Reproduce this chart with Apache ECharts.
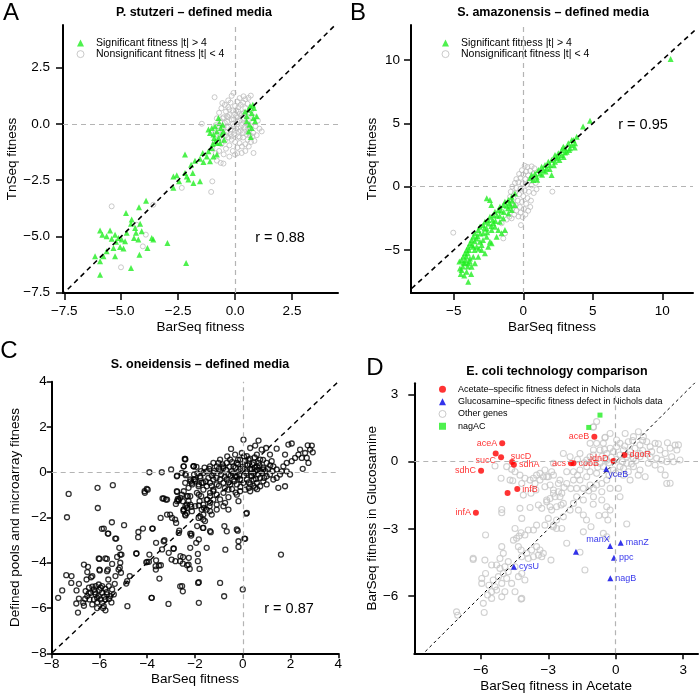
<!DOCTYPE html>
<html>
<head>
<meta charset="utf-8">
<title>BarSeq fitness comparisons</title>
<script src="https://cdn.jsdelivr.net/npm/echarts@6.0.0/dist/echarts.min.js"></script>
<style>
html, body { margin: 0; padding: 0; background: #fff; }
#main { width: 700px; height: 695px; }
</style>
</head>
<body>
<div id="main"></div>
<script>
// ---- panel A : P. stutzeri ----
const aSig = [
  [-5.93,-4.73],[-5.83,-4.92],[-5.64,-4.99],[-5.49,-4.74],[-5.42,-5.10],[-5.27,-4.92],[-5.23,-5.24],[-5.12,-5.07],[-5.05,-5.47],[-4.9,-5.54],
  [-4.98,-5.14],[-4.79,-3.96],[-4.76,-4.84],[-4.57,-4.44],[-4.54,-4.25],[-4.44,-5.07],[-4.35,-4.84],[-4.25,-5.14],[-4.22,-3.70],[-4.17,-4.44],
  [-4.1,-4.77],[-3.91,-3.41],[-3.85,-5.51],[-3.66,-5.07],[-3.59,-5.14],[-4.2,-5.81],[-4.57,-6.4],[-5.27,-5.88],[-5.64,-5.66],[-5.93,-6.1],
  [-6.15,-5.88],[-5.93,-6.7],[-5.78,-5.88],[-2.97,-5.29],[-2.15,-6.18],[-5.34,-5.51],[-4.39,-4.62],[-4.83,-5.21],
  [-2.71,-2.33],[-2.56,-2.28],[-2.71,-2.84],[-2.46,-2.55],[-2.2,-1.36],[-2.12,-2.33],[-2.05,-2.47],[-2.2,-2.18],[-1.93,-1.81],[-1.86,-2.18],
  [-1.83,-2.62],[-1.76,-1.63],[-1.54,-2.55],[-1.54,-1.54],[-1.42,-1.29],[-1.39,-1.69],[-1.24,-1.44],[-1.17,-1.21],[-1.1,-1.66],[-1.02,-1.07],
  [-0.95,-1.44],[-0.86,-0.77],[-0.8,-1.36],[-0.98,-0.89],
  [-1.17,-0.25],[-1.1,-0.4],[-1.02,-0.18],[-0.95,-0.47],[-0.88,-0.1],[-0.8,-0.33],[-0.73,-0.62],[-0.69,0.04],[-0.63,-0.18],[-0.59,-0.47],
  [-0.54,-0.03],[-0.51,-0.33],[-0.48,-0.7],[-0.8,-0.84],[-0.66,-0.84],[-0.73,0.27],[-0.92,-0.62],
  [0.51,0.34],[0.59,0.64],[0.66,0.79],[0.73,0.49],[0.81,0.27],[0.88,0.12],[0.51,0.12],[0.63,-0.03],[0.73,-0.18],[0.83,0.71],
  [0.95,0.34],[0.44,0.56],[0.69,-0.58],[0.59,-0.33],[0.78,0.86]
];
const aNon = [
  [-0.9,1.19],[-0.56,0.93],[-0.07,1.38],[0.37,1.23],[0.59,1.16],[0.69,1.26],[-1.46,0.01],[1.17,-0.33],[1.07,-0.21],[0.81,-1.29],
  [0.29,-1.29],[0,-1.36],[-0.63,-1.73],[-0.51,-1.76],[-0.8,-1.63],
  [-0.7,0.5],[-0.6,0.7],[-0.5,0.3],[-0.45,0.85],[-0.4,0.55],[-0.35,0.1],[-0.3,0.75],[-0.25,0.4],[-0.2,0.95],[-0.15,0.2],
  [-0.1,0.6],[-0.05,-0.1],[0,0.8],[0.05,0.35],[0.1,1.0],[0.15,0.55],[0.2,0.15],[0.25,0.85],[0.3,0.45],[0.35,0.95],
  [0.4,0.25],[0.45,0.7],[0.5,0.05],[0.55,0.9],[0.6,0.4],[0.65,-0.2],[0.7,0.6],[0.75,0.1],[0.8,-0.4],[0.85,0.3],[0.9,-0.1],
  [-0.75,-0.3],[-0.7,-0.6],[-0.65,0.1],[-0.6,-0.9],[-0.55,-0.45],[-0.5,-0.15],[-0.45,-0.75],[-0.4,-1.1],[-0.35,-0.35],[-0.3,-0.6],
  [-0.25,-0.95],[-0.2,-0.25],[-0.15,-0.7],[-0.1,-1.2],[-0.05,-0.45],[0,-0.8],[0.05,-0.2],[0.1,-1.05],[0.15,-0.55],[0.2,-0.85],
  [0.25,-0.3],[0.3,-1.0],[0.35,-0.6],[0.4,-0.15],[0.45,-0.9],[0.5,-0.45],[0.55,-0.7],[0.6,-1.0],[0.65,-0.5],[0.7,-0.8],
  [0.75,-0.55],[0.85,-0.75],[0.95,-0.5],[1.0,0.15],
  [-0.85,-0.05],[-0.8,0.25],[-0.95,-0.45],[-0.9,-0.85],[-1.0,-1.1],[-0.85,-1.3],[-0.7,-1.2],[-0.5,-1.35],[-0.25,-1.45],[0.1,-1.3],
  [0.45,-1.2],[-0.3,1.05],[0.2,1.15],[-0.15,1.25],[0.45,1.1],[-0.55,0.25],[-0.1,0.0],[0.1,0.1],[0.3,-0.05],[-0.2,-0.45],
  [0.0,0.45],[0.2,-0.6],[-0.4,-0.5],[0.6,0.15],[-0.6,-0.2],[0.0,-0.3],[0.15,0.75],[-0.35,0.35],[0.55,-0.2],[0.35,0.2],
  [-0.3,0.3],[0.1,0.3],[0.4,0.5],[-0.45,0.05],[0.25,-0.15],[0.5,0.35],[-0.15,-0.55],[0.15,-0.35],[-0.25,0.65],[0.05,0.6],
  [0.35,-0.4],[0.6,-0.3],[-0.05,0.2],[0.2,0.45],[-0.35,-0.15],
  [-1.0,-2.55],[-1.05,-3.02],[-2.34,-2.84],[-5.42,-3.66],[-3.59,-3.59],[-4.32,-4.48],[-3.92,-4.92],[-4.05,-5.44],[-5.01,-6.37]
];

// ---- panel B : S. amazonensis ----
const bSig = [
  [4.8,5.2],[4.3,4.75],[10.6,10.08],[3.6,3.68],[3.48,3.29],[3.24,3.42],[3.0,3.03],[2.76,2.89],[2.52,2.63],[2.28,2.5],
  [2.4,2.24],[2.04,2.1],[1.8,1.97],[1.92,1.71],[1.56,1.71],[1.32,1.58],[1.44,1.32],[1.08,1.32],[0.84,1.05],[0.96,0.79],
  [0.6,0.92],[0.48,0.66],[2.04,0.92],[2.76,2.5],[3.12,2.76],[3.84,3.95],[3.48,3.68],[2.88,3.16],[1.68,1.45],[1.2,1.05],
  [0.72,0.53],[2.28,1.97],[2.52,2.37],[3.36,3.03],[3.72,3.42],[3.7,3.1],[3.0,2.7],[2.6,2.1],[2.2,1.7],[1.9,1.4],
  [1.6,1.2],[1.35,0.95],[2.9,2.35],[3.3,2.9],[1.0,0.55],
  [-0.6,-0.53],[-0.84,-0.79],[-1.08,-1.05],[-1.32,-1.18],[-1.44,-1.45],[-1.68,-1.58],[-1.8,-1.84],[-2.04,-1.97],[-2.16,-2.24],[-2.4,-2.37],
  [-2.52,-2.63],[-2.76,-2.76],[-2.88,-3.03],[-3.12,-3.16],[-3.24,-3.42],[-3.48,-3.68],[-3.6,-3.95],[-3.72,-4.21],[-3.84,-4.47],[-3.96,-4.74],
  [-4.08,-5.0],[-4.2,-5.26],[-4.32,-5.53],[-4.44,-5.79],[-4.56,-6.45],[-4.08,-6.71],[-3.96,-7.5],[-2.63,-0.92],[-2.4,-1.05],[-2.3,-1.45],
  [-2.28,-4.47],[-2.52,-4.74],[-1.92,-3.95],[-1.56,-3.68],[-1.32,-3.42],[-3.0,-5.0],[-2.76,-5.26],[-3.24,-5.53],[-3.48,-6.05],[-3.6,-5.53],
  [-3.96,-6.05],[-3.84,-5.66],[-3.36,-4.74],[-3.12,-4.34],[-2.64,-3.95],[-2.28,-3.42],[-2.04,-3.16],[-1.68,-2.76],[-1.44,-2.5],[-1.08,-2.11],
  [-0.84,-1.84],[-0.6,-1.45],[-4.2,-6.05],[-4.44,-6.58],[-3.72,-6.32],[-3.0,-4.61],[-2.4,-4.34],[-1.8,-3.42],[-2.16,-2.89],[-2.64,-3.29],
  [-2.88,-3.68],[-3.36,-4.08],[-3.6,-4.74],[-4.0,-5.26],
  [-1.2,-1.5],[-1.0,-1.3],[-0.8,-1.1],[-1.6,-1.9],[-1.9,-2.3],[-2.2,-2.6],[-2.5,-2.9],[-2.8,-3.3],[-3.1,-3.7],[-3.3,-3.9],
  [-3.5,-4.3],[-3.7,-4.6],[-3.9,-5.0],[-4.1,-5.5],[-4.3,-6.0],[-4.5,-6.9],[-4.0,-6.3],[-3.5,-5.0],[-3.2,-4.9],[-2.9,-4.2],
  [-2.6,-3.6],[-2.3,-3.1],[-2.0,-2.7],[-1.7,-2.3],[-1.4,-2.0],[-1.1,-1.7],[-0.9,-1.5],[-4.6,-5.9],[-4.35,-6.3],[-4.15,-5.8],
  [-3.85,-5.9],[-3.75,-6.9],[-4.25,-7.0]
];
const bNon = [
  [0.1,1.65],[0.3,1.55],[0.6,1.6],[0.8,1.45],[-0.1,1.3],[0.2,1.2],[0.5,1.25],[-0.3,1.0],[0.0,0.95],[0.35,0.9],
  [0.7,1.0],[-0.5,0.6],[-0.2,0.7],[0.15,0.6],[0.45,0.5],[0.9,0.3],[-0.6,0.3],[-0.35,0.35],[-0.05,0.25],[0.25,0.15],
  [0.6,0.1],[0.95,-0.2],[-0.8,0.0],[-0.5,-0.1],[-0.2,-0.15],[0.1,-0.3],[0.4,-0.4],[0.75,-0.5],[-0.9,-0.4],[-0.6,-0.5],
  [-0.3,-0.6],[0.0,-0.75],[0.3,-0.9],[0.55,-1.1],[-0.95,-0.8],[-0.7,-0.95],[-0.4,-1.1],[-0.1,-1.2],[0.2,-1.35],[0.5,-1.6],
  [-0.85,-1.3],[-0.55,-1.45],[-0.25,-1.6],[0.05,-1.75],[0.35,-1.9],[-0.8,-1.75],[-0.5,-1.9],[-0.2,-2.05],[0.15,-2.2],[-0.65,-2.2],
  [-0.35,-2.35],[-0.05,-2.4],
  [-5.04,-3.63],[-0.17,-3.03],[2.09,-0.39],[-0.84,-2.5],[-1.0,-2.37],[-1.56,-2.89],[-1.32,-3.68],[-1.44,-4.08],[-1.2,-2.6]
];

// ---- panel C : S. oneidensis ----
const cPts = [
  [-7.29,-0.96],[-7.36,-1.99],[-6.08,-0.69],[-6.07,-1.58],[-5.44,-0.57],[-5.9,-2.5],[-5.48,-2.21],[-5.65,-2.71],[-5.34,-2.93],[-5.3,-2.93],
  [-4.97,-2.34],[-5.17,-3.34],[-5.13,-3.64],[-5.13,-4.0],[-5.2,-4.3],[-6.0,-3.83],[-5.69,-3.83],[-6.0,-4.3],[-5.65,-4.3],[-4.37,-2.64],
  [-4.18,-2.49],[-3.77,-2.49],[-4.46,-3.59],[-3.91,-3.64],[-4.04,-3.98],[-3.63,-3.89],[-3.64,-4.3],[-3.43,-4.11],[-3.49,-4.7],[-3.81,-5.55],
  [-3.11,-5.82],[-3.31,-3.05],[-2.9,-3.37],[-2.66,-2.58],[-2.83,-2.09],[-3.04,-1.87],[-3.22,-1.21],[-3.36,-1.16],[-3.0,0.12],[-3.39,0.0],
  [-3.91,0.0],[-4.11,-0.84],[-4.02,-0.74],[-2.55,-0.03],[-2.41,0.59],[-2.06,0.27],[-2.39,-0.13],[-4.83,-5.92],[-2.62,-3.93],[-2.51,-4.04],
  [-2.27,-4.08],[-2.22,-4.27],[-2.62,-5.04],[-2.51,-5.26],[-1.88,-3.93],[-1.81,-4.27],[-1.84,-4.86],[-1.84,-5.77],[-2.2,-3.34],[-1.95,-3.12],
  [-1.51,-3.34],[-1.34,-2.65],[-1.67,-2.46],[-1.58,-2.16],[-2.13,-1.72],[-2.27,-1.28],[-1.99,-1.5],[-1.81,-1.28],[-1.74,-1.06],[-2.34,-1.8],
  [-2.48,-1.72],[-2.4,-1.5],[-2.51,-1.28],[-2.34,-1.06],[-2.72,-1.18],[-2.8,-1.4],[-0.67,-2.61],[-0.73,-3.42],[-0.21,-2.58],[-0.18,-3.3],
  [0.07,-2.93],[0.14,-1.83],[0,-5.18],[-0.95,-4.89],[-0.78,-5.48],[1.6,-3.64],[-1.09,-1.43],[-1.09,-1.65],[-1.3,-1.87],[-1.23,-0.84],
  [-1.37,-1.06],[-1.48,-1.21],[-1.62,-1.58],[-1.39,-1.5],
  [-5.82,-2.49],[-5.63,-2.71],[-5.08,-3.64],[-5.26,-3.74],[-6.03,-3.81],[-5.75,-3.81],[-5.47,-4.05],[-5.15,-4.22],[-5.1,-4.44],[-6.65,-4.08],
  [-6.48,-4.18],[-6.51,-4.41],[-6.3,-4.59],[-5.99,-4.34],[-5.68,-4.37],[-5.63,-4.74],[-7.39,-4.55],[-7.17,-4.59],[-7.18,-4.89],[-6.86,-4.93],
  [-6.54,-4.74],[-6.35,-4.64],[-5.33,-4.59],[-5.36,-4.93],[-4.73,-4.59],[-4.84,-4.81],[-4.88,-4.92],[-7.56,-5.22],[-7.73,-5.55],[-6.96,-5.22],
  [-6.86,-5.58],[-6.97,-5.8],[-6.68,-5.77],[-6.58,-5.25],[-6.44,-5.1],[-6.37,-5.33],[-6.23,-5.18],[-6.16,-5.03],[-6.03,-4.96],[-5.89,-5.03],
  [-5.75,-5.15],[-5.61,-5.03],[-5.47,-5.18],[-5.4,-5.4],[-5.54,-5.47],[-5.68,-5.4],[-5.89,-5.33],[-6.03,-5.47],[-6.16,-5.4],[-6.23,-5.62],
  [-6.09,-5.74],[-5.89,-5.77],[-5.82,-5.92],[-6.42,-5.62],[-6.51,-5.47],[-6.3,-5.84],[-5.96,-5.62],[-5.75,-5.62],[-3.82,-5.55],[-3.93,-3.96],
  [-4.0,-3.96],[-4.45,-3.59],[-3.65,-4.15],[-3.51,-4.12],[-4.38,-2.87],[-3.79,-2.49],[-3.28,-3.0],[-2.89,-3.38],[-2.61,-3.71],[-2.5,-3.75],
  [-2.33,-4.11],[-2.54,-5.03],[-1.87,-4.89],[-1.88,-3.61],[-2.15,-2.72],[-2.68,-2.68],[-2.79,-2.24],[-3.44,-2.02],[-3.17,-1.87],[-2.96,-2.02],
  [-2.4,-1.91],[-2.47,-1.65],[-2.33,-1.57],[-2.19,-1.43],[-4.1,-0.91],[-3.98,-0.77],[-2.75,-0.15],[-2.4,-0.07],[-2.47,0.26],[-2.43,0.59],
  [-3.31,-1.16],[-3.17,-1.21],[-2.75,-0.87],[-2.61,-1.13],[-2.75,-1.28],[-2.68,-1.25],[-2.3,-1.06],[-2.47,-0.84],[-2.12,-0.54],[-2.05,-0.32],
  [-2.19,-0.4],[-1.98,-0.4],[-1.84,-0.54],[-1.77,-0.25],[-1.94,0.24],[-2.05,0.26],[-1.84,-0.99],[-1.84,-1.47],[-2.15,-1.53],[-1.77,-1.97],
  [-3.1,-3.56],[-3.38,-3.41],[-3.63,-3.12],[-2.98,-3.86],[-2.82,-3.93],[-2.26,-3.78],[-1.84,-2.97],[-2.16,-2.8],[-1.91,-2.38],
  [0.03,1.44],[0.66,1.4],[-0.49,1.03],[0.52,1.18],[0.31,1.07],[0.79,1.0],[0.98,1.07],[1.42,1.04],[1.14,0.78],[1.77,0.78],
  [1.91,1.22],[2.05,1.27],[2.72,1.19],[2.89,1.18],[2.82,1.0],[2.93,0.88],[2.4,1.0],[2.61,0.85],[2.33,0.78],[2.19,0.63],
  [2.47,0.63],[2.68,0.63],[2.75,0.41],[2.05,0.49],[1.84,0.41],[1.7,0.26],[2.51,0.15],[1.98,-0.1],[1.56,-0.1],[1.77,-0.62],
  [1.49,-0.69],[1.14,-0.1],[1.28,0.26],[1.0,0.41],[0.86,0.12],[0.73,0.56],[0.59,0.26],[0.45,0.41],[0.38,0.12],[0.24,0.56],
  [0.1,0.34],[-0.11,0.56],[-0.25,0.41],[-0.39,0.26],[-0.53,0.56],[-0.67,0.41],[-0.81,0.26],[-0.95,0.56],[-1.02,0.41],[-1.09,0.26],
  [-1.23,0.41],[-1.37,0.26],[-1.51,0.04],[-1.65,-0.03],[-1.79,-0.18],[-1.99,-0.32],[-2.13,-0.47],[-2.04,-0.1],[-2.48,0.26],[-2.41,0.56],
  [-2.06,0.26],[-2.76,-0.18],[-1.92,-0.91],[-1.85,-0.62],[-1.65,-0.47],[-1.51,-0.62],[-1.37,-0.47],[-1.23,-0.32],[-1.09,-0.54],[-0.95,-0.32],
  [-0.81,-0.47],[-0.67,-0.32],[-0.53,-0.54],[-0.39,-0.32],[-0.25,-0.54],[-0.11,-0.32],[0.03,-0.47],[0.17,-0.32],[0.31,-0.54],[0.45,-0.32],
  [0.59,-0.47],[0.73,-0.25],[0.86,-0.4],[1.0,-0.18],[0.1,-0.77],[-0.11,-0.84],[-0.25,-0.99],[-0.18,-1.28],[-0.6,-0.77],[-0.81,-0.91],
  [-1.09,-0.99],[-1.23,-0.77],[-1.37,-0.91],[-1.51,-1.21],[-1.37,-1.35],[-1.23,-1.21],[-1.65,-1.43],[-1.72,-1.65],[-1.65,-1.87],[-1.51,-1.65],
  [-1.37,-1.72],[-0.74,-1.35],[-0.6,-1.65],[0.17,-1.8],[-0.25,-2.53],[-0.18,-3.05],[0.1,-2.94],[-0.77,-2.38],[-1.65,-2.46],[-1.37,-2.6],
  [-2.2,-2.71],[-2.48,-1.65],[-2.41,-1.87],[-2.69,-1.21],[-2.76,-0.84],[-2.2,-1.06],[-2.34,-1.43],[-1.65,-2.09],[-1.85,-2.02],[-0.81,-1.5],
  [-0.81,0.19],[-0.46,0.04],[-0.18,0.04],[0.17,0.04],[0.52,0.04],[0.8,-0.03],[-0.6,-0.1],[-0.32,-0.18],[0.38,-0.18],[0.66,0.41],
  [-0.04,0.85],[-0.32,0.78],[0.17,0.71],[0.59,0.78],[1.21,0.49],[1.42,0.12],[-0.95,0.04],[-1.23,-0.03],[-1.44,-0.25],[-1.72,-0.47],
  [-2.2,-0.32],[-2.41,-0.47],[-2.27,-0.69],[-2.55,-0.99],[-1.65,-0.77],[0.31,-0.84],[0.52,-0.69],[0.73,-0.62],[1.0,-0.54],[1.28,-0.32],
  [1.42,-0.25],[1.63,0.04],[1.84,0.04],
  [-1.4,0.15],[-1.3,-0.15],[-1.2,0.05],[-1.1,-0.25],[-1.0,0.15],[-0.9,-0.1],[-0.85,0.35],[-0.75,-0.2],[-0.7,0.1],[-0.6,-0.45],
  [-0.55,0.25],[-0.5,-0.15],[-0.45,0.45],[-0.4,-0.05],[-0.35,-0.4],[-0.3,0.2],[-0.25,-0.2],[-0.2,0.35],[-0.15,-0.1],[-0.1,0.15],
  [-0.05,-0.35],[0,0.25],[0.05,-0.15],[0.1,0.5],[0.15,-0.05],[0.2,0.3],[0.25,-0.45],[0.3,0.15],[0.35,-0.15],[0.4,0.35],
  [0.45,-0.05],[0.5,0.2],[0.55,-0.3],[0.6,0.1],[0.65,-0.1],[0.7,0.3],[0.75,0.05],[0.85,0.2],[0.9,-0.25],[0.95,0.05],
  [1.05,0.15],[1.15,0.3],[1.25,0.05],[-1.55,-0.4],[-1.6,0.2],[-1.75,0.05],[-1.9,-0.05],[-1.3,-0.6],[-1.0,-0.6],[-0.75,-0.7],
  [-0.45,-0.75],[-0.1,-0.65],[0.25,-0.7],[0.45,-0.6],[0.6,-0.75],[-0.3,-0.9],[-0.6,-1.1],[-0.95,-1.2],[0.3,0.6],[0.05,0.7],
  [-0.2,0.55],[-0.65,0.7],[0.5,0.65],[0.85,0.55],
  [-6.2,-5.3],[-6.0,-5.2],[-5.8,-5.5],[-6.1,-5.55],[-5.95,-5.1],[-6.3,-5.05],[-5.7,-5.3],[-6.45,-5.35],[-6.6,-5.6],[-5.6,-5.6],
  [-5.85,-6.0],[-6.1,-6.0],[-5.75,-6.1],[-6.65,-5.9],[-6.9,-6.2],[-5.5,-5.75]
];

// ---- panel D : E. coli ----
const dOther = [
  [-5.37,-0.19],[-5.1,-0.74],[-4.7,-0.82],[-4.58,-0.85],[-4.85,-0.22],[-4.63,-0.34],[-4.48,-0.45],[-4.26,-0.6],[-4.04,-0.74],[-3.81,-0.82],
  [-3.66,-0.74],[-3.52,-0.6],[-3.37,-0.52],[-3.22,-0.67],[-3.15,-0.37],[-3.0,-0.67],[-2.85,-0.45],[-2.77,-0.07],[-2.55,-0.97],[-2.92,-1.04],
  [-3.37,-0.82],[-3.59,-0.97],[-4.18,-0.97],[-5.07,-2.28],[-5.79,-3.27],[-6.34,-4.36],[-4.18,-2.53],[-3.81,-2.04],[-3.44,-1.93],[-3.29,-2.08],
  [-3.07,-1.79],[-2.92,-1.64],[-2.7,-1.56],[-2.4,-1.41],[-2.55,-1.34],[-2.77,-1.26],[-2.43,-1.93],[-2.85,-2.16],[-3.0,-2.53],[-3.15,-2.83],
  [-2.77,-2.83],[-2.63,-2.98],[-2.4,-2.98],[-3.52,-2.83],[-3.66,-3.05],[-3.89,-3.05],[-4.04,-3.27],[-4.3,-3.32],[-4.41,-3.42],[-4.48,-2.98],
  [-4.21,-3.17],[-4.55,-3.5],[-4.33,-3.79],[-4.21,-3.94],[-3.96,-4.09],[-4.18,-4.24],[-3.89,-4.32],[-3.66,-4.24],[-3.44,-4.17],[-3.29,-4.24],
  [-2.88,-4.39],[-3.74,-3.94],[-3.52,-3.79],[-3.37,-3.94],[-3.22,-4.09],[-5.07,-3.79],[-5.0,-4.09],[-5.52,-4.61],[-5.3,-4.61],[-5.15,-4.76],
  [-4.93,-4.69],[-4.78,-4.91],[-5.0,-4.99],[-5.22,-5.13],[-5.45,-5.28],[-5.64,-5.51],[-5.37,-5.58],[-5.52,-5.8],[-5.7,-5.95],[-5.52,-6.1],
  [-5.3,-5.73],[-4.48,-5.8],[-4.21,-6.13],[-5.96,-5.21],[-5.89,-6.32],[-5.85,-6.73],[-7.08,-6.7],[-7.03,-6.85],[-5.15,-4.32],[-4.78,-4.46],
  [-4.48,-4.69],[-4.33,-5.13],[-4.18,-4.99],[-4.04,-5.28],[-4.63,-5.43],[-4.85,-5.21],[-5.07,-5.43],[-5.79,-4.99],[-5.96,-5.43],[-4.93,-5.8],
  [-5.07,-6.03],[-4.26,-2.08],[-3.77,-1.41],[-3.55,-1.26],[-4.11,-1.49],[-5.07,-2.13],
  [-0.47,1.09],[0.04,0.97],[0.42,1.26],[0.19,0.82],[0.56,0.89],[0.79,1.12],[1.01,1.34],[1.23,1.12],[1.38,0.89],[1.08,0.74],
  [0.86,0.6],[1.53,0.67],[1.75,0.82],[1.97,0.52],[2.2,0.37],[2.42,0.6],[2.64,0.74],[2.72,0.52],[2.49,0.22],[2.27,0],
  [1.82,0.15],[1.53,0.22],[1.45,-0.07],[1.75,-0.15],[2.05,0.07],[2.57,0.0],[2.2,-0.6],[1.31,-0.67],[1.08,-0.37],[0.79,-0.22],
  [0.56,-0.45],[0.34,-0.6],[0.64,-0.82],[0.12,-1.19],[0.19,-1.56],[-0.4,-2.01],[-0.25,-2.16],[-0.47,-2.38],[0.49,-2.78],[-0.62,-1.34],
  [-0.85,-1.04],[-0.99,-1.56],[-0.62,-1.71],[-1.44,-1.71],[-1.74,-1.56],[-1.88,-1.86],[-2.03,-2.16],[-1.66,-2.16],[-1.44,-2.38],[-2.33,-1.86],
  [-2.63,-2.01],[-2.92,-2.01],[-3.07,-1.71],[-3.15,-1.12],[-3.07,-0.67],[-2.77,-0.6],[-2.48,-0.82],[-2.18,-0.97],[-1.88,-0.82],[-1.59,-0.82],
  [-1.29,-0.67],[-1.14,-0.45],[-0.85,-0.52],[-0.55,-0.22],[-1.29,-0.22],[-1.59,-0.37],[-1.88,-0.45],[-2.18,-0.45],[-2.33,0.37],[-2.03,0.22],
  [-1.59,0.37],[-1.14,0.22],[-0.99,0.52],[-0.7,0.52],[-0.4,0.37],[-0.25,0.6],[0.04,0.67],[0.34,0.52],[-0.55,0.82],[-0.85,0.82],
  [-1.14,0.82],[-0.4,0.07],[-0.7,-0.07],[-0.99,0.0],[-1.29,0.07],[-0.1,-0.37],[0.19,-0.22],[0.49,-0.07],[0.79,0.15],[1.08,0.22],
  [0.49,0.22],[0.19,0.3],[1.08,0.37],[0.64,0.45],[-0.99,1.56],[-0.85,1.79],[2.27,-0.97],[-0.4,-0.82],[-0.25,-1.19],[-0.62,-0.97],
  [-2.77,-1.41],[-2.48,-1.56],[-2.33,-2.46],[-2.63,-2.6],[-0.55,-3.2],[-0.4,-3.35],[-1.74,-1.19],[-1.44,-1.19],[-1.14,-1.04],[-0.99,-1.19],
  [-0.25,1.26],[-1.0,1.54],[-0.48,1.07],[2.79,0.75],[2.86,0.08],[2.42,-0.96],[-1.37,-4.83],[-1.59,-4.04],[-2.18,-3.64],[-1.44,-3.13],
  [-2.78,-2.9],[-5.82,-4.39],[-6.34,-4.31],[-4.18,-6.1],
  [-0.2,0.2],[-0.3,-0.05],[0.05,0.1],[0.3,0.0],[0.6,0.3],[0.9,0.05],[1.2,0.5],[1.4,0.35],[0.7,-0.1],[0.4,0.7],
  [-0.6,0.25],[-0.8,-0.25],[-1.0,0.3],[-1.4,-0.05],[-1.7,0.1],[-0.3,-0.6],[0.0,-0.5],[0.35,-0.3],[1.0,-0.6],[1.6,0.45],
  [1.9,0.8],[2.3,0.85],[2.0,-0.35],[-0.1,0.45],[-0.5,0.55],[0.75,0.95],[1.2,0.95],[-1.7,-0.6],[-2.0,-1.2],[-2.3,-1.15],
  [-1.2,-1.3],[-1.0,-1.9],[-0.75,-2.4],[-1.3,-2.6],[-1.1,-2.9],[-0.35,-2.6]
];
const dAcetate = [
  ['aceA',-5.05,0.83],['',-5.34,0.37],['sucC',-5.1,0.2],['sucD',-4.61,-0.01],['sdhA',-4.53,-0.13],['sdhC',-5.99,-0.4],
  ['infB',-4.38,-1.22],['',-4.81,-1.4],['infA',-6.22,-2.28],['acs',-1.99,-0.07],['cobB',-1.88,-0.07],['aceB',-0.95,1.12],
  ['idnD',-0.1,0.03],['dgoR',0.39,0.3]
];
const dGlucosamine = [
  ['yceB',-0.42,-0.32],['manX',-0.25,-3.76],['manZ',0.22,-3.62],['ppc',-0.08,-4.29],['nagB',-0.24,-5.2],['',-1.77,-4.02],['cysU',-4.53,-4.69]
];
const dNagAC = [[-0.7,2.08],[-1.2,1.53]];

// ticks and correlations
const ticksA = [-7.5, -5, -2.5, 0, 2.5];
const ticksB = [-5, 0, 5, 10];
const ticksC = [-8, -6, -4, -2, 0, 2, 4];
const ticksD = [-6, -3, 0, 3];
const rValues = ['0.88', '0.95', '0.87'];
const diagLine = [[-20, -20], [20, 20]];

const FONT = '"Liberation Sans", Arial, Helvetica, sans-serif';
const GREEN = '#22ee22';
const GRAY = '#bdbdbd';
const RED = '#ff0000';
const BLUE = '#0000e6';

// label sides for the named genes in D
const labelPlace = {
  aceA: { position: 'left' }, sucC: { position: 'left', offset: [0, 3] },
  sucD: { position: 'inside', offset: [9, -5] }, sdhA: { position: 'right' },
  sdhC: { position: 'left' }, infB: { position: 'right' }, infA: { position: 'left' },
  acs: { position: 'left' }, cobB: { position: 'right' }, aceB: { position: 'left' },
  idnD: { position: 'left', offset: [0, -3] }, dgoR: { position: 'right' },
  yceB: { position: 'inside', offset: [12, 6] }, manX: { position: 'inside', offset: [-12, -6] },
  manZ: { position: 'right' }, ppc: { position: 'right' }, nagB: { position: 'right' }, cysU: { position: 'right' }
};

function tickFmt(dec) {
  return v => (dec ? v.toFixed(dec) : String(v)).replace('-', '\u2212');
}

function axis(gi, min, max, ticks, dec, name, nameGap, margin, tickLen) {
  return {
    type: 'value', gridIndex: gi, min: min, max: max,
    name: name, nameLocation: 'middle', nameGap: nameGap,
    nameTextStyle: { fontFamily: FONT, fontSize: 13.5, color: '#000' },
    axisLine: { show: true, onZero: false, lineStyle: { color: '#000', width: 2 } },
    axisTick: { show: true, inside: false, length: tickLen, customValues: ticks, lineStyle: { color: '#000', width: 1.5 } },
    axisLabel: { customValues: ticks, margin: margin, formatter: tickFmt(dec), fontFamily: FONT, fontSize: 13.5, color: '#000' },
    splitLine: { show: false }
  };
}

const zeroLines = {
  silent: true, symbol: ['none', 'none'], label: { show: false }, animation: false,
  lineStyle: { color: '#b4b4b4', type: [5, 4], width: 1.2 },
  data: [{ xAxis: 0 }, { yAxis: 0 }]
};

function refLine(gi, dash, width) {
  return {
    type: 'line', xAxisIndex: gi, yAxisIndex: gi, data: diagLine, symbol: 'none',
    silent: true, clip: true, z: 5, lineStyle: { color: '#000', width: width, type: dash }
  };
}

function openCircles(gi, name, data, color, size, bw) {
  return {
    type: 'scatter', name: name, xAxisIndex: gi, yAxisIndex: gi, data: data,
    symbol: 'circle', symbolSize: size,
    itemStyle: { color: 'rgba(0,0,0,0)', borderColor: color, borderWidth: bw },
    markLine: zeroLines
  };
}

function labelled(list, color, symbol, size, name) {
  return {
    type: 'scatter', name: name, xAxisIndex: 3, yAxisIndex: 3, symbol: symbol, symbolSize: size, z: 3,
    itemStyle: { color: color },
    label: { show: true, fontFamily: FONT, fontSize: 9, color: color, distance: 2, formatter: p => p.data.name },
    data: list.map(g => Object.assign({ name: g[0], value: [g[1], g[2]] },
      g[0] ? { label: labelPlace[g[0]] } : { label: { show: false } }))
  };
}

function txt(x, y, text, size, weight) {
  return {
    type: 'text', x: x, y: y, silent: true,
    style: { text: text, fontFamily: FONT, fontSize: size, fontWeight: weight || 'normal', fill: '#000', textAlign: 'center', textVerticalAlign: 'middle' }
  };
}

const sigName = 'Significant fitness |t| > 4';
const nonName = 'Nonsignificant fitness |t| < 4';
const acName = 'Acetate\u2013specific fitness defect in Nichols data';
const glName = 'Glucosamine\u2013specific fitness defect in Nichols data';

// small square icon boxes; text pushed right with padding to sit where R puts it
function smallLegend(iconX, top, lineH, fs, data) {
  return {
    orient: 'vertical', left: iconX - 3.5, top: top, padding: 0, itemGap: 0,
    itemWidth: 7, itemHeight: 7, selectedMode: false,
    textStyle: { fontFamily: FONT, fontSize: fs, color: '#000', lineHeight: lineH, padding: [0, 0, 0, 7] },
    data: data
  };
}

const chart = echarts.init(document.getElementById('main'));
chart.setOption({
  animation: false,
  backgroundColor: '#fff',
  grid: [
    { left: 63, top: 25, width: 275, height: 268 },
    { left: 411, top: 25, width: 282, height: 268 },
    { left: 51.7, top: 381.7, width: 286.6, height: 271.6 },
    { left: 414.3, top: 383.3, width: 283.7, height: 270 }
  ],
  xAxis: [
    axis(0, -7.557, 4.52, ticksA, 1, 'BarSeq fitness', 27.5, 11, 7),
    axis(1, -8.08, 12.21, ticksB, 0, 'BarSeq fitness', 27.5, 11, 7),
    axis(2, -8, 4, ticksC, 0, 'BarSeq fitness', 17, 4, 5),
    axis(3, -8.96, 3.66, ticksD, 0, 'BarSeq fitness in Acetate', 26, 9.5, 6)
  ],
  yAxis: [
    axis(0, -7.513, 4.40, ticksA, 1, 'TnSeq fitness', 42.5, 13, 7),
    axis(1, -8.39, 12.76, ticksB, 0, 'TnSeq fitness', 31.5, 11, 7),
    axis(2, -8, 4, ticksC, 0, 'Defined pools and microarray fitness', 29, 5, 5),
    axis(3, -8.55, 3.5, ticksD, 0, 'BarSeq fitness in Glucosamine', 28.8, 16, 6)
  ],
  legend: [
    smallLegend(80, 37.6, 10.7, 10.5, [
      { name: sigName, icon: 'triangle', itemStyle: { color: GREEN, borderWidth: 0 } },
      { name: nonName, icon: 'circle', itemStyle: { color: 'rgba(0,0,0,0)', borderColor: GRAY, borderWidth: 1 } }
    ]),
    smallLegend(445, 37.6, 10.7, 10.5, [
      { name: sigName, icon: 'triangle', itemStyle: { color: GREEN, borderWidth: 0 } },
      { name: nonName, icon: 'circle', itemStyle: { color: 'rgba(0,0,0,0)', borderColor: GRAY, borderWidth: 1 } }
    ]),
    smallLegend(442, 383.2, 12.3, 9, [
      { name: acName, icon: 'circle', itemStyle: { color: RED, borderWidth: 0 } },
      { name: glName, icon: 'triangle', itemStyle: { color: BLUE, borderWidth: 0 } },
      { name: 'Other genes', icon: 'circle', itemStyle: { color: 'rgba(0,0,0,0)', borderColor: GRAY, borderWidth: 1 } },
      { name: 'nagAC', icon: 'rect', itemStyle: { color: GREEN, borderWidth: 0 } }
    ])
  ],
  series: [
    openCircles(0, nonName, aNon, GRAY, 5, 1),
    { type: 'scatter', name: sigName, xAxisIndex: 0, yAxisIndex: 0, data: aSig, symbol: 'triangle', symbolSize: 6, itemStyle: { color: GREEN } },
    refLine(0, [5, 4], 1.6),
    openCircles(1, nonName, bNon, GRAY, 5, 1),
    { type: 'scatter', name: sigName, xAxisIndex: 1, yAxisIndex: 1, data: bSig, symbol: 'triangle', symbolSize: 6, itemStyle: { color: GREEN } },
    refLine(1, [5, 4], 1.6),
    openCircles(2, 'cpts', cPts, '#000', 5, 1.3),
    refLine(2, [5, 4], 1.4),
    openCircles(3, 'Other genes', dOther, '#c6c6c6', 6, 1.1),
    labelled(dAcetate, RED, 'circle', 6, acName),
    labelled(dGlucosamine, BLUE, 'triangle', 6, glName),
    { type: 'scatter', name: 'nagAC', xAxisIndex: 3, yAxisIndex: 3, data: dNagAC, symbol: 'rect', symbolSize: 5, itemStyle: { color: GREEN } },
    refLine(3, [3, 3], 1)
  ],
  graphic: [
    txt(11, 13, 'A', 24), txt(358, 13, 'B', 24), txt(9, 351, 'C', 24), txt(375, 368, 'D', 24),
    txt(194, 13, 'P. stutzeri \u2013 defined media', 12.5, 'bold'),
    txt(553, 13, 'S. amazonensis \u2013 defined media', 12.5, 'bold'),
    txt(200, 365, 'S. oneidensis \u2013 defined media', 12.5, 'bold'),
    txt(557, 372, 'E. coli technology comparison', 12.5, 'bold'),
    txt(280, 238, 'r = ' + rValues[0], 14.5),
    txt(643, 125, 'r = ' + rValues[1], 14.5),
    txt(289, 609, 'r = ' + rValues[2], 14.5)
  ]
});
</script>
</body>
</html>
